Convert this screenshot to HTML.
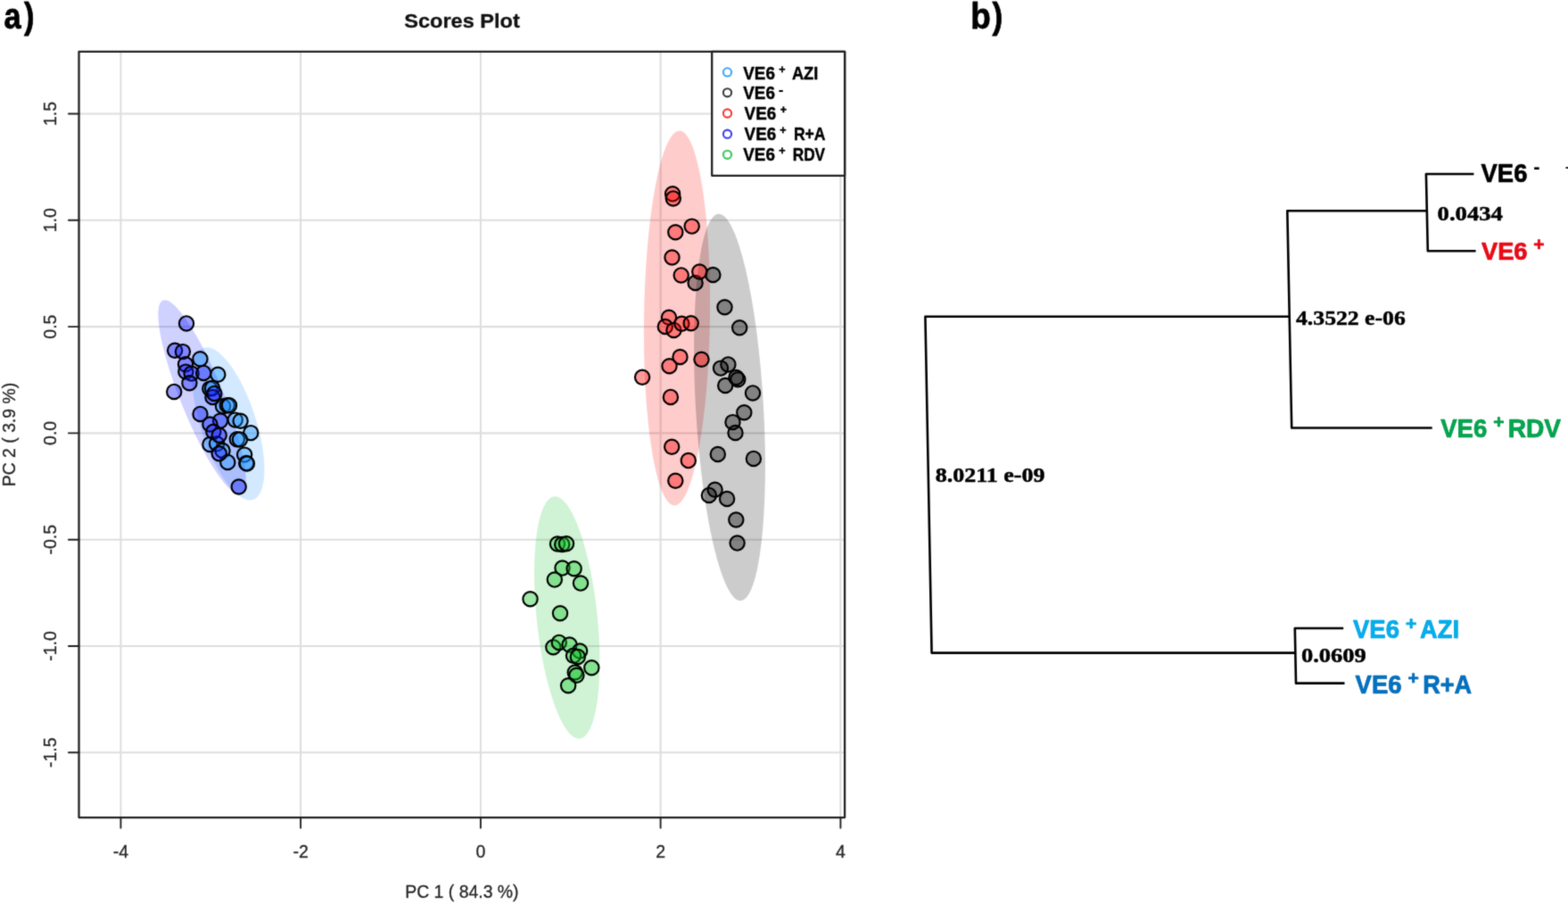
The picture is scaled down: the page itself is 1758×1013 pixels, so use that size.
<!DOCTYPE html>
<html lang="en"><head><meta charset="utf-8"><title>Scores Plot</title>
<style>
html,body{margin:0;padding:0;background:#fff;}
body{width:1758px;height:1013px;overflow:hidden;}
svg{display:block;}
text{font-family:"Liberation Sans",sans-serif;}
.ax{font-size:19.5px;fill:#262626;stroke:#262626;stroke-width:0.3px;}
.lg{font-size:20px;font-weight:bold;fill:#000;}
.num{font-family:"Liberation Serif",serif;font-weight:bold;font-size:24px;fill:#000;stroke:#000;stroke-width:0.5px;}
.leaf{font-weight:bold;font-size:28.5px;}
.pan{font-weight:bold;font-size:41.5px;fill:#000;stroke:#000;stroke-width:0.8px;stroke-linejoin:round;}
</style></head><body>
<svg width="1758" height="1013" viewBox="0 0 1758 1013">
<defs><filter id="soft" filterUnits="userSpaceOnUse" x="0" y="0" width="1758" height="1013" color-interpolation-filters="sRGB"><feConvolveMatrix order="3" kernelMatrix="9 42 9 42 196 42 9 42 9" divisor="400" edgeMode="duplicate" preserveAlpha="true"/></filter></defs>
<g filter="url(#soft)">
<rect x="0" y="0" width="1758" height="1013" fill="#ffffff"/>
<g stroke="#dedede" stroke-width="2.1" fill="none">
<line x1="135.4" y1="57.8" x2="135.4" y2="916.1"/>
<line x1="337.1" y1="57.8" x2="337.1" y2="916.1"/>
<line x1="538.9" y1="57.8" x2="538.9" y2="916.1"/>
<line x1="740.6" y1="57.8" x2="740.6" y2="916.1"/>
<line x1="942.4" y1="57.8" x2="942.4" y2="916.1"/>
<line x1="88.5" y1="127.5" x2="947.1" y2="127.5"/>
<line x1="88.5" y1="246.8" x2="947.1" y2="246.8"/>
<line x1="88.5" y1="366.1" x2="947.1" y2="366.1"/>
<line x1="88.5" y1="485.4" x2="947.1" y2="485.4"/>
<line x1="88.5" y1="604.7" x2="947.1" y2="604.7"/>
<line x1="88.5" y1="724.0" x2="947.1" y2="724.0"/>
<line x1="88.5" y1="843.2" x2="947.1" y2="843.2"/>
</g>
<g stroke="none" fill-opacity="0.2">
<ellipse cx="0" cy="0" rx="210.0" ry="37.0" fill="#ff0000" transform="translate(759.0 356.5) rotate(90.80)"/>
<ellipse cx="0" cy="0" rx="217.0" ry="38.0" fill="#000000" transform="translate(818.0 456.5) rotate(86.70)"/>
<ellipse cx="0" cy="0" rx="89.5" ry="31.0" fill="#1e90ff" transform="translate(256.0 474.8) rotate(72.00)"/>
<ellipse cx="0" cy="0" rx="117.0" ry="24.0" fill="#1018ff" transform="translate(226.5 445.0) rotate(68.00)"/>
<ellipse cx="0" cy="0" rx="136.5" ry="34.0" fill="#11c528" transform="translate(635.7 692.0) rotate(84.00)"/>
</g>
<g fill="#1e90ff" fill-opacity="0.40" stroke="#000" stroke-width="2.15">
<circle cx="224.4" cy="402.2" r="8.15"/>
<circle cx="244.3" cy="419.8" r="8.15"/>
<circle cx="235.3" cy="435.6" r="8.15"/>
<circle cx="238.0" cy="434.9" r="8.15"/>
<circle cx="250.0" cy="455.2" r="8.15"/>
<circle cx="254.8" cy="454.3" r="8.15"/>
<circle cx="257.0" cy="454.2" r="8.15"/>
<circle cx="263.7" cy="470.6" r="8.15"/>
<circle cx="269.6" cy="471.7" r="8.15"/>
<circle cx="281.2" cy="485.1" r="8.15"/>
<circle cx="265.8" cy="492.2" r="8.15"/>
<circle cx="268.9" cy="492.4" r="8.15"/>
<circle cx="235.4" cy="498.0" r="8.15"/>
<circle cx="243.1" cy="497.3" r="8.15"/>
<circle cx="249.5" cy="505.0" r="8.15"/>
<circle cx="255.3" cy="517.9" r="8.15"/>
<circle cx="274.1" cy="509.6" r="8.15"/>
<circle cx="276.2" cy="518.9" r="8.15"/>
<circle cx="276.9" cy="519.6" r="8.15"/>
</g>
<g fill="#000000" fill-opacity="0.36" stroke="#000" stroke-width="2.15">
<circle cx="799.4" cy="308.0" r="8.15"/>
<circle cx="779.6" cy="317.0" r="8.15"/>
<circle cx="812.5" cy="344.2" r="8.15"/>
<circle cx="829.2" cy="367.3" r="8.15"/>
<circle cx="816.4" cy="408.4" r="8.15"/>
<circle cx="808.0" cy="412.6" r="8.15"/>
<circle cx="825.4" cy="423.0" r="8.15"/>
<circle cx="827.3" cy="425.2" r="8.15"/>
<circle cx="813.2" cy="432.0" r="8.15"/>
<circle cx="844.0" cy="440.4" r="8.15"/>
<circle cx="834.3" cy="462.2" r="8.15"/>
<circle cx="821.5" cy="473.1" r="8.15"/>
<circle cx="824.5" cy="485.0" r="8.15"/>
<circle cx="804.8" cy="509.0" r="8.15"/>
<circle cx="844.9" cy="513.9" r="8.15"/>
<circle cx="801.6" cy="548.7" r="8.15"/>
<circle cx="794.9" cy="554.9" r="8.15"/>
<circle cx="815.1" cy="559.0" r="8.15"/>
<circle cx="825.3" cy="582.5" r="8.15"/>
<circle cx="826.6" cy="608.6" r="8.15"/>
</g>
<g fill="#ff0000" fill-opacity="0.40" stroke="#000" stroke-width="2.15">
<circle cx="754.1" cy="217.3" r="8.15"/>
<circle cx="754.8" cy="222.4" r="8.15"/>
<circle cx="775.7" cy="253.6" r="8.15"/>
<circle cx="757.3" cy="260.3" r="8.15"/>
<circle cx="753.5" cy="288.5" r="8.15"/>
<circle cx="784.3" cy="304.5" r="8.15"/>
<circle cx="763.7" cy="308.4" r="8.15"/>
<circle cx="750.0" cy="355.8" r="8.15"/>
<circle cx="745.8" cy="366.0" r="8.15"/>
<circle cx="755.4" cy="369.9" r="8.15"/>
<circle cx="764.4" cy="362.8" r="8.15"/>
<circle cx="774.7" cy="362.2" r="8.15"/>
<circle cx="762.5" cy="400.0" r="8.15"/>
<circle cx="786.5" cy="402.7" r="8.15"/>
<circle cx="750.5" cy="410.2" r="8.15"/>
<circle cx="720.1" cy="422.8" r="8.15"/>
<circle cx="751.9" cy="444.9" r="8.15"/>
<circle cx="753.2" cy="500.8" r="8.15"/>
<circle cx="771.8" cy="516.1" r="8.15"/>
<circle cx="757.3" cy="538.8" r="8.15"/>
</g>
<g fill="#1018ff" fill-opacity="0.40" stroke="#000" stroke-width="2.15">
<circle cx="209.0" cy="362.4" r="8.15"/>
<circle cx="196.1" cy="392.8" r="8.15"/>
<circle cx="204.9" cy="394.1" r="8.15"/>
<circle cx="208.0" cy="408.2" r="8.15"/>
<circle cx="208.3" cy="416.6" r="8.15"/>
<circle cx="214.6" cy="418.6" r="8.15"/>
<circle cx="228.2" cy="417.9" r="8.15"/>
<circle cx="212.4" cy="429.3" r="8.15"/>
<circle cx="195.2" cy="438.9" r="8.15"/>
<circle cx="238.4" cy="445.1" r="8.15"/>
<circle cx="240.3" cy="440.9" r="8.15"/>
<circle cx="224.5" cy="463.9" r="8.15"/>
<circle cx="247.0" cy="471.6" r="8.15"/>
<circle cx="235.4" cy="475.5" r="8.15"/>
<circle cx="239.3" cy="483.8" r="8.15"/>
<circle cx="245.7" cy="487.7" r="8.15"/>
<circle cx="245.7" cy="508.2" r="8.15"/>
<circle cx="267.7" cy="545.5" r="8.15"/>
</g>
<g fill="#11c528" fill-opacity="0.40" stroke="#000" stroke-width="2.15">
<circle cx="625.0" cy="609.6" r="8.15"/>
<circle cx="630.2" cy="610.0" r="8.15"/>
<circle cx="635.0" cy="609.2" r="8.15"/>
<circle cx="630.5" cy="636.6" r="8.15"/>
<circle cx="643.6" cy="637.2" r="8.15"/>
<circle cx="621.8" cy="649.6" r="8.15"/>
<circle cx="651.0" cy="653.6" r="8.15"/>
<circle cx="594.5" cy="671.2" r="8.15"/>
<circle cx="628.0" cy="687.2" r="8.15"/>
<circle cx="620.3" cy="725.3" r="8.15"/>
<circle cx="626.8" cy="719.9" r="8.15"/>
<circle cx="638.5" cy="722.5" r="8.15"/>
<circle cx="650.1" cy="729.6" r="8.15"/>
<circle cx="643.0" cy="734.7" r="8.15"/>
<circle cx="647.8" cy="735.9" r="8.15"/>
<circle cx="663.3" cy="748.3" r="8.15"/>
<circle cx="644.7" cy="753.5" r="8.15"/>
<circle cx="646.4" cy="756.8" r="8.15"/>
<circle cx="637.1" cy="768.2" r="8.15"/>
</g>
<g stroke="#222" stroke-width="2.3" fill="none" stroke-linecap="round" stroke-linejoin="round">
<rect x="88.5" y="57.8" width="858.6" height="858.3"/>
<line x1="135.4" y1="916.1" x2="135.4" y2="927.7" stroke-width="1.9"/>
<line x1="337.1" y1="916.1" x2="337.1" y2="927.7" stroke-width="1.9"/>
<line x1="538.9" y1="916.1" x2="538.9" y2="927.7" stroke-width="1.9"/>
<line x1="740.6" y1="916.1" x2="740.6" y2="927.7" stroke-width="1.9"/>
<line x1="942.4" y1="916.1" x2="942.4" y2="927.7" stroke-width="1.9"/>
<line x1="76.9" y1="127.5" x2="88.5" y2="127.5" stroke-width="1.9"/>
<line x1="76.9" y1="246.8" x2="88.5" y2="246.8" stroke-width="1.9"/>
<line x1="76.9" y1="366.1" x2="88.5" y2="366.1" stroke-width="1.9"/>
<line x1="76.9" y1="485.4" x2="88.5" y2="485.4" stroke-width="1.9"/>
<line x1="76.9" y1="604.7" x2="88.5" y2="604.7" stroke-width="1.9"/>
<line x1="76.9" y1="724.0" x2="88.5" y2="724.0" stroke-width="1.9"/>
<line x1="76.9" y1="843.2" x2="88.5" y2="843.2" stroke-width="1.9"/>
</g>
<text class="ax" x="135.4" y="960.7" text-anchor="middle">-4</text>
<text class="ax" x="337.1" y="960.7" text-anchor="middle">-2</text>
<text class="ax" x="538.9" y="960.7" text-anchor="middle">0</text>
<text class="ax" x="740.6" y="960.7" text-anchor="middle">2</text>
<text class="ax" x="942.4" y="960.7" text-anchor="middle">4</text>
<text class="ax" transform="translate(63 127.5) rotate(-90)" text-anchor="middle">1.5</text>
<text class="ax" transform="translate(63 246.8) rotate(-90)" text-anchor="middle">1.0</text>
<text class="ax" transform="translate(63 366.1) rotate(-90)" text-anchor="middle">0.5</text>
<text class="ax" transform="translate(63 485.4) rotate(-90)" text-anchor="middle">0.0</text>
<text class="ax" transform="translate(63 604.7) rotate(-90)" text-anchor="middle">-0.5</text>
<text class="ax" transform="translate(63 724.0) rotate(-90)" text-anchor="middle">-1.0</text>
<text class="ax" transform="translate(63 843.2) rotate(-90)" text-anchor="middle">-1.5</text>
<text class="ax" x="517.9" y="1006.0" text-anchor="middle" textLength="127.3" lengthAdjust="spacingAndGlyphs">PC 1 ( 84.3 %)</text>
<text class="ax" transform="translate(17.1 487.0) rotate(-90)" text-anchor="middle" textLength="116.5" lengthAdjust="spacingAndGlyphs">PC 2 ( 3.9 %)</text>
<text x="518" y="30.6" text-anchor="middle" textLength="129.5" lengthAdjust="spacingAndGlyphs" style="font-weight:bold;font-size:22.4px;fill:#111;stroke:#111;stroke-width:0.3px">Scores Plot</text>
<rect x="798.2" y="57.8" width="148.9" height="139.0" fill="#fff" stroke="#222" stroke-width="2.3" stroke-linejoin="round"/>
<g class="lg" stroke="#000" stroke-width="0.45" stroke-linejoin="round">
<circle cx="815.5" cy="80.9" r="4.6" fill="none" stroke="#3ea6ff" stroke-width="2.1"/>
<text x="833.3" y="88.8" textLength="35.6" lengthAdjust="spacingAndGlyphs">VE6</text>
<text x="876.8" y="81.7" text-anchor="middle" style="font-size:12.5px">+</text>
<text x="887.9" y="88.8" textLength="29.4" lengthAdjust="spacingAndGlyphs">AZI</text>
<circle cx="815.5" cy="103.8" r="4.6" fill="none" stroke="#3c3c3c" stroke-width="2.1"/>
<text x="833.3" y="111.4" textLength="35.6" lengthAdjust="spacingAndGlyphs">VE6</text>
<text x="875.5" y="106.1" text-anchor="middle" style="font-size:17px" stroke="none">-</text>
<circle cx="815.5" cy="127.0" r="4.6" fill="none" stroke="#f23a3a" stroke-width="2.1"/>
<text x="834.6" y="133.8" textLength="35.6" lengthAdjust="spacingAndGlyphs">VE6</text>
<text x="878.3" y="126.9" text-anchor="middle" style="font-size:12.5px">+</text>
<circle cx="815.5" cy="150.2" r="4.6" fill="none" stroke="#3c3cf2" stroke-width="2.1"/>
<text x="834.6" y="156.6" textLength="35.6" lengthAdjust="spacingAndGlyphs">VE6</text>
<text x="878.0" y="149.7" text-anchor="middle" style="font-size:12.5px">+</text>
<text x="889.9" y="156.6" textLength="35.7" lengthAdjust="spacingAndGlyphs">R+A</text>
<circle cx="815.5" cy="173.3" r="4.6" fill="none" stroke="#3cc85a" stroke-width="2.1"/>
<text x="833.3" y="180.0" textLength="35.6" lengthAdjust="spacingAndGlyphs">VE6</text>
<text x="877.0" y="173.2" text-anchor="middle" style="font-size:12.5px">+</text>
<text x="888.7" y="180.0" textLength="36.4" lengthAdjust="spacingAndGlyphs">RDV</text>
</g>
<text class="pan" x="4.6" y="31.6" textLength="19.1" lengthAdjust="spacingAndGlyphs">a</text>
<text class="pan" x="27.0" y="31.6" textLength="11.5" lengthAdjust="spacingAndGlyphs">)</text>
<text class="pan" x="1088.3" y="31.6" textLength="22.6" lengthAdjust="spacingAndGlyphs">b</text>
<text class="pan" x="1112.5" y="31.6" textLength="11.8" lengthAdjust="spacingAndGlyphs">)</text>
<g stroke="#000" stroke-width="2.6" fill="none" stroke-linecap="butt" stroke-linejoin="round" transform="translate(0.4 0.2)">
<polyline points="1445.3,354.5 1037,354.5 1044.2,731.4 1452,731.4"/>
<polyline points="1599.4,236 1442.9,236 1447.8,479.3 1605.3,479.3"/>
<polyline points="1652,194.8 1598.5,194.8 1600.4,281 1654.2,281"/>
<polyline points="1505.8,703.8 1451.4,703.8 1452.6,765.4 1507.1,765.4"/>
</g>
<text class="num" x="1048.7" y="540.3" textLength="122.8" lengthAdjust="spacingAndGlyphs">8.0211 e-09</text>
<text class="num" x="1453.0" y="363.5" textLength="122.8" lengthAdjust="spacingAndGlyphs">4.3522 e-06</text>
<text class="num" x="1611.6" y="246.6" textLength="73.3" lengthAdjust="spacingAndGlyphs">0.0434</text>
<text class="num" x="1458.9" y="741.8" textLength="72.8" lengthAdjust="spacingAndGlyphs">0.0609</text>
<g class="leaf" fill="#000000" stroke="#000000" stroke-width="0.7" stroke-linejoin="round" style="font-size:30.0px">
<text x="1660.6" y="204.3" textLength="51.8" lengthAdjust="spacingAndGlyphs">VE6</text>
<text x="1722.8" y="194.2" text-anchor="middle" style="font-size:22px" stroke="none">-</text>
</g>
<g class="leaf" fill="#ee0a14" stroke="#d80010" stroke-width="0.7" stroke-linejoin="round" style="font-size:28.4px">
<text x="1661.0" y="291.2" textLength="51.5" lengthAdjust="spacingAndGlyphs">VE6</text>
<text x="1725.4" y="281.3" text-anchor="middle" style="font-size:21px">+</text>
</g>
<g class="leaf" fill="#00a84f" stroke="#008f40" stroke-width="0.7" stroke-linejoin="round" style="font-size:29.4px">
<text x="1615.2" y="489.5" textLength="52.0" lengthAdjust="spacingAndGlyphs">VE6</text>
<text x="1680.3" y="480.0" text-anchor="middle" style="font-size:21px">+</text>
<text x="1690.7" y="489.5" textLength="59.4" lengthAdjust="spacingAndGlyphs">RDV</text>
</g>
<g class="leaf" fill="#00b0f0" stroke="#0098d8" stroke-width="0.7" stroke-linejoin="round" style="font-size:29.4px">
<text x="1517.0" y="715.4" textLength="52.0" lengthAdjust="spacingAndGlyphs">VE6</text>
<text x="1582.1" y="705.7" text-anchor="middle" style="font-size:21px">+</text>
<text x="1592.0" y="715.4" textLength="44.0" lengthAdjust="spacingAndGlyphs">AZI</text>
</g>
<g class="leaf" fill="#0072c4" stroke="#005fa8" stroke-width="0.7" stroke-linejoin="round" style="font-size:29.4px">
<text x="1519.6" y="776.7" textLength="52.0" lengthAdjust="spacingAndGlyphs">VE6</text>
<text x="1584.7" y="766.7" text-anchor="middle" style="font-size:21px">+</text>
<text x="1595.2" y="776.7" textLength="55.0" lengthAdjust="spacingAndGlyphs">R+A</text>
</g>
<rect x="1755.5" y="187" width="2.5" height="2" fill="#222"/>
</g>
</svg>
</body></html>
